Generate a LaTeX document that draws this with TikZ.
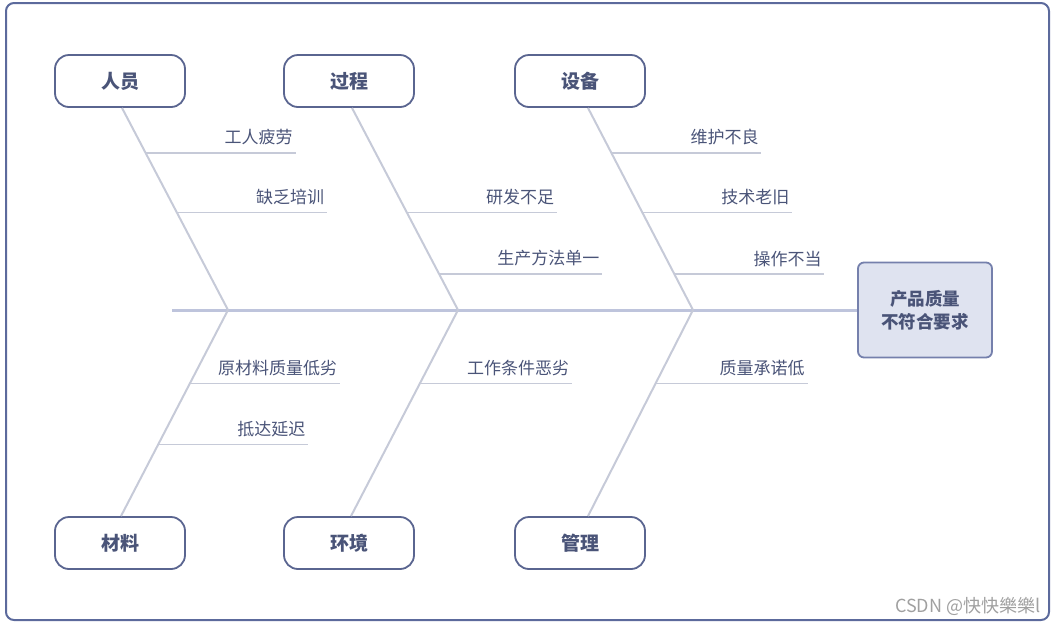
\documentclass[tikz,border=0pt]{standalone}
\usepackage{fontspec}
\usepackage{xcolor}
\usepackage{tikz}
\usetikzlibrary{calc}
\newfontfamily\cjk{Noto Sans CJK SC}
\definecolor{framecol}{HTML}{5C6A9C}
\definecolor{ink}{HTML}{4A5478}
\definecolor{boxcol}{HTML}{5A6590}
\definecolor{bonecol}{HTML}{C6CAD8}
\definecolor{spinecol}{HTML}{BEC4DC}
\definecolor{headbg}{HTML}{DFE3F0}
\definecolor{headcol}{HTML}{7580AC}
\definecolor{wmcol}{HTML}{A0A0A0}
\tikzset{
  cat/.style={draw=boxcol, fill=white, line width=1.8pt, rounded corners=14pt,
    minimum width=130pt, minimum height=52pt, text=ink,
    font=\cjk\bfseries\fontsize{19}{22}\selectfont},
  head/.style={draw=headcol, fill=headbg, line width=1.8pt, rounded corners=6pt,
    minimum width=134pt, minimum height=95pt, text=ink, align=center,
    font=\cjk\bfseries\fontsize{17.5}{23}\selectfont},
  spine/.style={draw=spinecol, line width=3pt},
  bone/.style={draw=bonecol, line width=2pt},
  sub/.style={draw=bonecol, line width=1.6pt},
  lab/.style={text=ink, font=\cjk\fontsize{17}{20}\selectfont, inner sep=2pt},
}
\begin{document}
\begin{tikzpicture}[x=1pt,y=-1pt]
  \useasboundingbox (0,0) rectangle (1055,625);
  \draw[draw=framecol, line width=2pt, rounded corners=8pt] (6,3) rectangle (1049,620);
  % head and spine
  \node[head] (hd) at (925,310) {产品质量\\不符合要求};
  \coordinate (tail) at (172,310);
  \coordinate (j1) at (228,310);
  \coordinate (j2) at (458,310);
  \coordinate (j3) at (693,310);
  \draw[spine] (tail) -- (hd.west);
  % categories
  \node[cat] (ry) at (120,81) {人员};
  \node[cat] (gc) at (349,81) {过程};
  \node[cat] (sb) at (580,81) {设备};
  \node[cat] (cl) at (120,543) {材料};
  \node[cat] (hj) at (349,543) {环境};
  \node[cat] (gl) at (580,543) {管理};
  \coordinate (t1) at ($(ry.south)+(2,0)$);
  \coordinate (t2) at ($(gc.south)+(3,0)$);
  \coordinate (t3) at ($(sb.south)+(8,0)$);
  \coordinate (b1) at ($(cl.north)+(1,0)$);
  \coordinate (b2) at ($(hj.north)+(2,0)$);
  \coordinate (b3) at ($(gl.north)+(8,0)$);
  \foreach \c/\j in {t1/j1,t2/j2,t3/j3,b1/j1,b2/j2,b3/j3}
    \draw[bone] (\c) -- (\j);
  % causes
  \foreach \a/\b/\t/\len/\txt [count=\i] in {
      t1/j1/0.222/150/工人疲劳, t1/j1/0.517/150/缺乏培训,
      t2/j2/0.517/150/研发不足, t2/j2/0.823/163/生产方法单一,
      t3/j3/0.222/150/维护不良, t3/j3/0.517/150/技术老旧,
      t3/j3/0.823/150/操作不当,
      j1/b1/0.357/150/原材料质量低劣, j1/b1/0.652/150/抵达延迟,
      j2/b2/0.357/152/工作条件恶劣, j3/b3/0.357/152/质量承诺低}
    \draw[sub] ($(\a)!\t!(\b)$) coordinate (s\i) -- ++(\len,0) coordinate (e\i)
      node[lab, anchor=south east, yshift=5pt] (l\i) {\txt};
  \node[text=wmcol, font=\cjk\fontsize{18}{20}\selectfont, anchor=east] (wm) at (1044,606) {CSDN @快快樂樂l};
\end{tikzpicture}
\end{document}
